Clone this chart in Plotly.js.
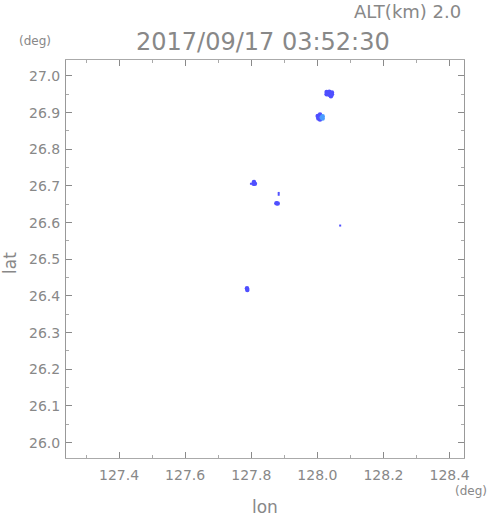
<!DOCTYPE html>
<html>
<head>
<meta charset="utf-8">
<script src="https://cdn.plot.ly/plotly-3.0.1.min.js"></script>
<style>html,body{margin:0;padding:0;background:#fff;}#chart{width:491px;height:521px;}</style>
</head>
<body>
<div id="chart"></div>
<script>
// Echo cells (lon, lat, intensity class: 1 = dark blue, 2 = light blue)
const cellLon = [128.028,128.036,128.044,128.028,128.036,128.044,128.041,
                 128.001,128.003,128.008,128.008,128.006,128.016,128.016,128.013,
                 127.808,127.811,127.807,
                 127.876,127.880,
                 127.787,127.788];
const cellLat = [26.956,26.957,26.955,26.950,26.949,26.950,26.945,
                 26.891,26.884,26.895,26.881,26.888,26.890,26.884,26.887,
                 26.711,26.706,26.706,
                 26.653,26.652,
                 26.421,26.416];
const cellVal = [1,1,1,1,1,1,1,
                 1,1,1,1,1,2,2,2,
                 1,1,1,
                 1,1,
                 1,1];
// Isolated specks
const speckLon = [127.799,127.883,127.883,128.069];
const speckLat = [26.706,26.681,26.676,26.592];
const speckVal = [1,1,1,1];

const xTickVals = [127.4,127.6,127.8,128.0,128.2,128.4];
const yTickVals = [26.0,26.1,26.2,26.3,26.4,26.5,26.6,26.7,26.8,26.9,27.0];

const palette = {1:'#4f4fff', 2:'#4a9cff'};

const L=66, R=464, T=60, B=458;
const px = x => (x-L)/(R-L);
const py = y => (B-y)/(B-T);

const grey = '#8a8a8a';
const txt = '#888888';
const axFont = {family:'DejaVu Sans, sans-serif', size:14, color:txt};

const data = [
  {x: cellLon, y: cellLat, type:'scatter', mode:'markers',
   marker:{symbol:'circle', size:4.5, color: cellVal.map(v=>palette[v]), line:{width:0}},
   hoverinfo:'x+y', showlegend:false},
  {x: speckLon, y: speckLat, type:'scatter', mode:'markers',
   marker:{symbol:'square', size:2, color: speckVal.map(v=>palette[v]), line:{width:0}},
   hoverinfo:'x+y', showlegend:false}
];

const layout = {
  width:491, height:521,
  margin:{l:L, r:491-R, t:T, b:521-B, pad:0},
  paper_bgcolor:'#ffffff', plot_bgcolor:'#ffffff',
  showlegend:false,
  xaxis:{range:[127.2395,128.4436], tickvals:xTickVals, tickformat:'.1f',
    ticks:'inside', ticklen:6, tickcolor:grey, tickwidth:1,
    minor:{dtick:0.1, tick0:127.3, ticks:'inside', ticklen:3, tickcolor:'#aaaaaa'},
    showline:true, linecolor:'#aaaaaa', linewidth:1, mirror:'ticks',
    showgrid:false, zeroline:false, tickfont:axFont, ticklabelstandoff:4},
  yaxis:{range:[25.9580,27.0436], tickvals:yTickVals, tickformat:'.1f',
    ticks:'inside', ticklen:6, tickcolor:grey, tickwidth:1,
    minor:{dtick:0.05, tick0:26.05, ticks:'inside', ticklen:3, tickcolor:'#aaaaaa'},
    showline:true, linecolor:'#999999', linewidth:1, mirror:'ticks',
    showgrid:false, zeroline:false, tickfont:axFont, ticklabelstandoff:2},
  annotations:[
    {text:'ALT(km) 2.0', xref:'paper', yref:'paper', x:px(463), y:py(12), xanchor:'right', yanchor:'middle', showarrow:false,
     font:{family:'DejaVu Sans, sans-serif', size:18, color:txt}},
    {text:'2017/09/17 03:52:30', xref:'paper', yref:'paper', x:px(263), y:py(42), xanchor:'center', yanchor:'middle', showarrow:false,
     font:{family:'DejaVu Sans, sans-serif', size:24, color:txt}},
    {text:'(deg)', xref:'paper', yref:'paper', x:px(35), y:py(41), xanchor:'center', yanchor:'middle', showarrow:false,
     font:{family:'DejaVu Sans, sans-serif', size:12, color:txt}},
    {text:'(deg)', xref:'paper', yref:'paper', x:px(471), y:py(491), xanchor:'center', yanchor:'middle', showarrow:false,
     font:{family:'DejaVu Sans, sans-serif', size:12, color:txt}},
    {text:'lon', xref:'paper', yref:'paper', x:px(265), y:py(507), xanchor:'center', yanchor:'middle', showarrow:false,
     font:{family:'DejaVu Sans, sans-serif', size:17, color:txt}},
    {text:'lat', xref:'paper', yref:'paper', x:px(10), y:py(263), xanchor:'center', yanchor:'middle', showarrow:false, textangle:-90,
     font:{family:'DejaVu Sans, sans-serif', size:17, color:txt}}
  ]
};

Plotly.newPlot('chart', data, layout, {staticPlot:true, displayModeBar:false});
</script>
</body>
</html>
